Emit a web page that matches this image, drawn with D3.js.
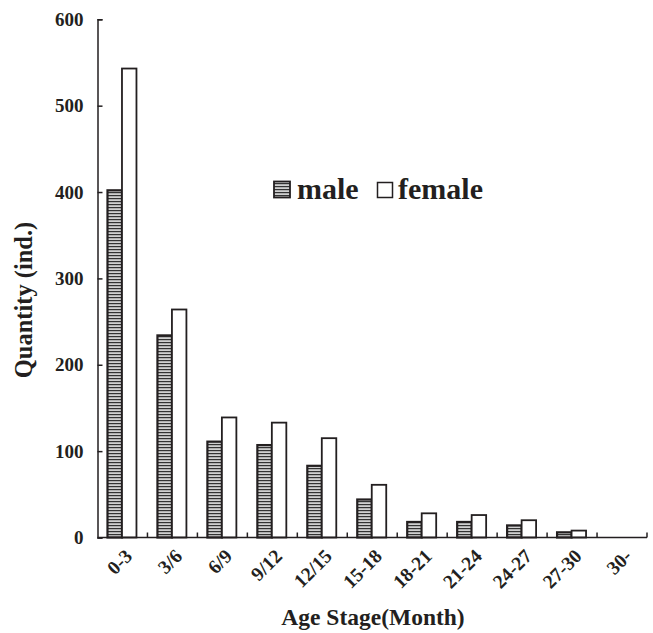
<!DOCTYPE html>
<html>
<head>
<meta charset="utf-8">
<script src="https://cdn.jsdelivr.net/npm/d3@7"></script>
<style>
  html, body { margin: 0; padding: 0; background: #fff; }
  svg { display: block; }
  text { font-family: "Liberation Serif", "Times New Roman", serif; font-weight: bold; fill: #231f20; }
</style>
</head>
<body>
<svg id="chart" width="653" height="633"></svg>
<script>
// Age stages (months) and individuals counted per stage
const categories = ["0-3", "3/6", "6/9", "9/12", "12/15", "15-18", "18-21", "21-24", "24-27", "27-30", "30-"];
const maleValues = [402, 234, 111, 107, 83, 44, 18, 18, 14, 6, 0];
const femaleValues = [543, 264, 139, 133, 115, 61, 28, 26, 20, 8, 0];
const seriesNames = ["male", "female"];
const yTicks = [0, 100, 200, 300, 400, 500, 600];

const ink = "#231f20";
const svg = d3.select("#chart");

const plot = { left: 97.5, right: 647, top: 19.3, bottom: 537.5 };

const x0 = d3.scaleBand().domain(categories).range([plot.left, plot.right]).paddingInner(0).paddingOuter(0);
const bw = x0.bandwidth();
const x1 = d3.scaleBand().domain(seriesNames).range([bw * 0.2, bw * 0.78]);
const y = d3.scaleLinear().domain([0, 600]).range([plot.bottom, plot.top]);

// horizontal stripe fill for the male bars
const defs = svg.append("defs");
const pat = defs.append("pattern")
  .attr("id", "stripes").attr("patternUnits", "userSpaceOnUse")
  .attr("width", 6).attr("height", 3);
pat.append("rect").attr("width", 6).attr("height", 3).attr("fill", "#d0d0d0");
pat.append("rect").attr("y", 0).attr("width", 6).attr("height", 1.2).attr("fill", "#333");

const rows = categories.map((c, i) => ({ cat: c, male: maleValues[i], female: femaleValues[i] }));

const groups = svg.append("g").selectAll("g").data(rows).join("g")
  .attr("transform", d => `translate(${x0(d.cat)},0)`);

groups.selectAll("rect").data(d => seriesNames.map(s => ({ s, v: d[s] })).filter(e => e.v > 0)).join("rect")
  .attr("x", e => x1(e.s))
  .attr("width", x1.bandwidth())
  .attr("y", e => y(e.v))
  .attr("height", e => y(0) - y(e.v))
  .attr("fill", e => e.s === "male" ? "url(#stripes)" : "#fff")
  .attr("stroke", ink)
  .attr("stroke-width", e => e.s === "male" ? 2.2 : 1.8);

// y axis with inward ticks
const yAxis = d3.axisLeft(y).tickValues(yTicks).tickSize(-5).tickPadding(14).tickFormat(d3.format("d"));
const gy = svg.append("g").attr("transform", `translate(${plot.left},0)`).call(yAxis);
gy.select(".domain").attr("stroke", ink).attr("stroke-width", 1.5);
gy.selectAll(".tick line").attr("stroke", ink).attr("stroke-width", 1.5);
gy.selectAll(".tick text").attr("font-size", 19).attr("font-family", "Liberation Serif, serif").attr("font-weight", "bold").attr("fill", ink);

// x axis: line with short upward ticks at stage boundaries
const gx = svg.append("g");
gx.append("line")
  .attr("x1", plot.left).attr("x2", plot.right)
  .attr("y1", plot.bottom).attr("y2", plot.bottom)
  .attr("stroke", ink).attr("stroke-width", 1.5);
const boundaries = categories.slice(1).map(c => x0(c)).concat([plot.right]);
gx.selectAll("line.tk").data(boundaries).join("line").attr("class", "tk")
  .attr("x1", d => d).attr("x2", d => d)
  .attr("y1", plot.bottom).attr("y2", plot.bottom - 5)
  .attr("stroke", ink).attr("stroke-width", 1.5);

gx.selectAll("text").data(categories).join("text")
  .attr("transform", c => `translate(${x0(c) + bw / 2 + 1},${plot.bottom + 10}) rotate(-45)`)
  .attr("text-anchor", "end")
  .attr("dy", "0.72em")
  .attr("font-size", 19.5)
  .text(c => c);

// axis titles
svg.append("text")
  .attr("x", 373).attr("y", 625)
  .attr("text-anchor", "middle")
  .attr("font-size", 23.5)
  .text("Age Stage(Month)");

svg.append("text")
  .attr("transform", "translate(32,300) rotate(-90)")
  .attr("text-anchor", "middle")
  .attr("font-size", 24.5)
  .text("Quantity (ind.)");

// legend
const legend = svg.append("g");
legend.append("rect").attr("x", 274).attr("y", 181.5).attr("width", 16).attr("height", 16)
  .attr("fill", "url(#stripes)").attr("stroke", ink).attr("stroke-width", 1.8);
legend.append("text").attr("x", 297).attr("y", 199).attr("font-size", 30).text(seriesNames[0]);
legend.append("rect").attr("x", 377.5).attr("y", 182.5).attr("width", 15).attr("height", 15)
  .attr("fill", "#fff").attr("stroke", ink).attr("stroke-width", 1.5);
legend.append("text").attr("x", 398).attr("y", 199).attr("font-size", 30).text(seriesNames[1]);
</script>
</body>
</html>
